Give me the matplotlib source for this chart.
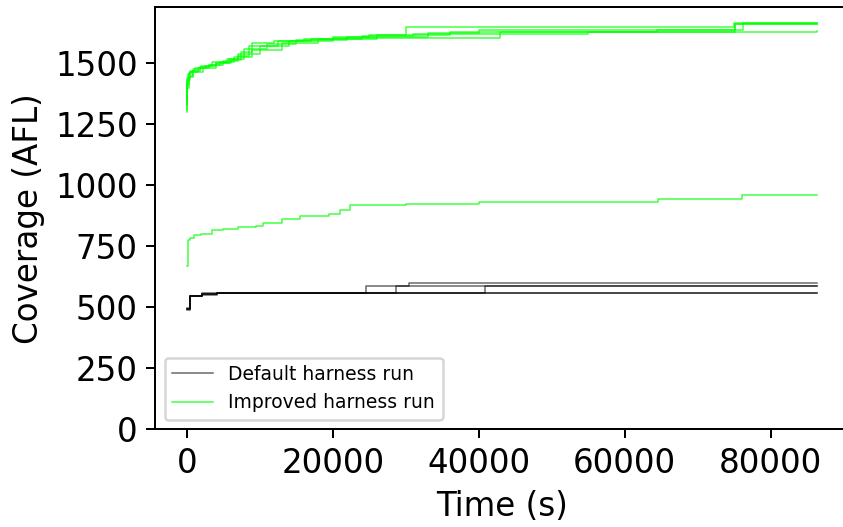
import matplotlib
matplotlib.use("Agg")
import matplotlib.pyplot as plt

# default harness runs (time in s, coverage)
default_t1 = [0, 450, 2100, 4100, 24500, 30400, 86400]
default_c1 = [493, 545, 553, 558, 587, 601, 601]
default_t2 = [0, 450, 2100, 4100, 28700, 86400]
default_c2 = [496, 548, 556, 558, 587, 587]
default_t3 = [0, 450, 2100, 4100, 40800, 86400]
default_c3 = [490, 546, 553, 558, 587, 587]
default_t4 = [0, 450, 2100, 86400]
default_c4 = [495, 548, 558, 558]
default_t5 = [0, 450, 2100, 4100, 86400]
default_c5 = [492, 545, 552, 558, 558]

# improved harness runs
improved_t1 = [0, 60, 200, 500, 1200, 2500, 4000, 6000, 7500, 9000, 12000, 16000, 20000, 25000, 30000, 75000, 86400]
improved_c1 = [1300, 1420, 1455, 1470, 1480, 1490, 1500, 1515, 1545, 1583, 1590, 1600, 1610, 1615, 1648, 1667, 1667]
improved_t2 = [0, 80, 300, 800, 2000, 3500, 5500, 7800, 11000, 15000, 22000, 33000, 40000, 76200, 86400]
improved_c2 = [1330, 1400, 1450, 1475, 1490, 1505, 1520, 1560, 1578, 1595, 1610, 1625, 1637, 1665, 1665]
improved_t3 = [0, 100, 400, 1500, 3000, 5000, 7000, 8500, 14000, 20000, 42900, 64400, 75100, 86400]
improved_c3 = [1350, 1430, 1465, 1480, 1495, 1510, 1530, 1570, 1590, 1605, 1628, 1637, 1662, 1662]
improved_t4 = [0, 50, 250, 700, 1800, 3000, 4500, 6500, 9000, 13000, 18000, 26000, 36000, 86400]
improved_c4 = [1310, 1440, 1460, 1470, 1485, 1495, 1505, 1525, 1555, 1585, 1600, 1615, 1630, 1634]
improved_t5 = [0, 70, 300, 900, 2200, 4000, 5800, 7000, 10000, 12500, 17000, 24000, 31000, 55000, 75100, 86400]
improved_c5 = [1340, 1410, 1445, 1465, 1480, 1500, 1520, 1540, 1570, 1590, 1600, 1612, 1622, 1630, 1660, 1660]
improved_t6 = [0, 150, 400, 1000, 2000, 3500, 5000, 7000, 9500, 10500, 13000, 15500, 19500, 21000, 22400, 30000, 40000, 64500, 76000, 86400]
improved_c6 = [668, 775, 785, 795, 800, 815, 822, 828, 835, 845, 862, 874, 882, 898, 918, 922, 932, 946, 960, 960]

x_ticks = [0, 20000, 40000, 60000, 80000]
y_ticks = [0, 250, 500, 750, 1000, 1250, 1500]

default_runs = [(default_t1, default_c1), (default_t2, default_c2), (default_t3, default_c3),
                (default_t4, default_c4), (default_t5, default_c5)]
improved_runs = [(improved_t1, improved_c1), (improved_t2, improved_c2), (improved_t3, improved_c3),
                 (improved_t4, improved_c4), (improved_t5, improved_c5), (improved_t6, improved_c6)]

fig = plt.figure(figsize=(843 / 180, 527 / 180), dpi=180)
# the right spine falls just outside the picture in the original
ax = fig.add_axes([0.1841, 0.1854, 0.823, 0.8008])
ax.spines["right"].set_visible(False)

for i, (t, c) in enumerate(default_runs):
    ax.plot(t, c, drawstyle="steps-post", color="black", alpha=0.6, lw=0.6,
            label="Default harness run" if i == 0 else None)
for i, (t, c) in enumerate(improved_runs):
    ax.plot(t, c, drawstyle="steps-post", color="#00ff00", alpha=0.75, lw=0.6,
            label="Improved harness run" if i == 0 else None)

ax.set_xlim(-4320, 90720)
ax.set_ylim(0, 1730)
ax.set_xticks(x_ticks)
ax.set_yticks(y_ticks)
ax.tick_params(labelsize=13)
ax.set_xlabel("Time (s)", fontsize=13)
ax.set_ylabel("Coverage (AFL)", fontsize=13)
ax.legend(loc="lower left", fontsize=7.5, handlelength=2.2)

fig.savefig("out.png", dpi=180)
